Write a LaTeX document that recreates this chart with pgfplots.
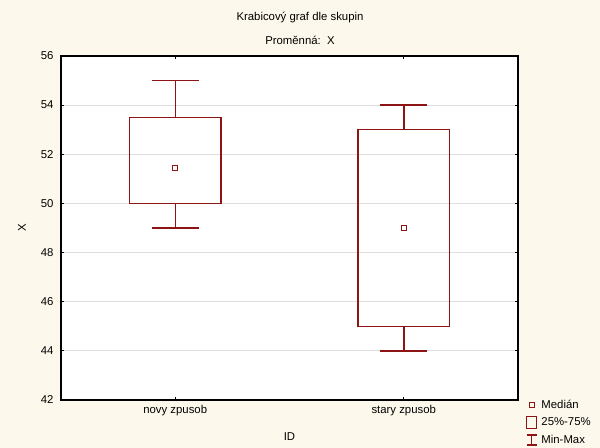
\documentclass[border=0pt]{standalone}
\usepackage{fontspec}
\setmainfont{Liberation Sans}
\usepackage{pgfplots}
\pgfplotsset{compat=1.18}
\definecolor{bg}{RGB}{253,248,236}
\definecolor{boxred}{RGB}{140,20,20}
\definecolor{gridgray}{RGB}{222,222,222}
\begin{document}
\begin{tikzpicture}[font=\fontsize{11.4}{13}\selectfont]
\fill[bg] (-61bp,-48bp) rectangle (539bp,400bp);
\useasboundingbox (-61bp,-48bp) rectangle (539bp,400bp);
\begin{axis}[
  at={(0,0)}, anchor=south west,
  scale only axis, width=457bp, height=344bp,
  xmin=0.5, xmax=2.5, ymin=42, ymax=56,
  xtick={1,2}, xticklabels={novy zpusob, stary zpusob},
  ytick={42,44,...,56},
  axis background/.style={fill=white},
  axis line style={line width=1.2bp},
  tick style={black, line width=0.8bp},
  major tick length=3bp,
  tick align=inside,
  ymajorgrids, grid style={gridgray, line width=0.8bp},
  /pgf/number format/assume math mode=true,
  ticklabel style={font=\fontsize{11.4}{13}\selectfont},
  xticklabel style={yshift=-2bp},
  yticklabel style={xshift=-4bp},
  xlabel={ID}, ylabel={X},
  label style={font=\fontsize{11.4}{13}\selectfont},
  xlabel style={at={(axis description cs:0.5,0)}, anchor=center, yshift=-37bp},
  ylabel style={at={(axis description cs:-0.0853,0.5)}, anchor=center},
  unbounded coords=jump,
  legend style={at={(1.0175,0)}, anchor=north west, draw=none, fill=none,
    inner sep=0pt, row sep=5bp, yshift=1bp,
    font=\fontsize{11.4}{13}\selectfont,
    nodes={inner ysep=1bp, inner xsep=2.5bp}},
  legend cell align=left,
]
% novy zpusob: min 49, Q1 50, median 51.45, Q3 53.5, max 55
\addplot[boxred, line width=1.5bp, forget plot, line cap=rect] coordinates {
  (0.8,50) (1.2,50) (1.2,53.5) (0.8,53.5) (0.8,50)
  (1,nan) (1,53.5) (1,55)
  (1,nan) (0.9,55) (1.1,55)
  (1,nan) (1,50) (1,49)
  (1,nan) (0.9,49) (1.1,49)
};
% stary zpusob: min 44, Q1 45, median 49, Q3 53, max 54
\addplot[boxred, line width=1.5bp, forget plot, line cap=rect] coordinates {
  (1.8,45) (2.2,45) (2.2,53) (1.8,53) (1.8,45)
  (2,nan) (2,53) (2,54)
  (2,nan) (1.9,54) (2.1,54)
  (2,nan) (2,45) (2,44)
  (2,nan) (1.9,44) (2.1,44)
};
\addplot[boxred, only marks, mark=square, mark size=2.6bp,
  mark options={line width=1.2bp}, forget plot]
  coordinates {(1,51.45) (2,49)};
\addlegendimage{legend image code/.code={
  \draw[boxred, line width=1.1bp] (2.5bp,-2.5bp) rectangle (7.5bp,2.5bp);
  \path (0bp,0bp) (12bp,0bp);}}
\addlegendentry{Medián}
\addlegendimage{legend image code/.code={
  \draw[boxred, line width=1.1bp] (0bp,-6bp) rectangle (10bp,6bp);
  \path (12bp,0bp);}}
\addlegendentry{25\%-75\%}
\addlegendimage{legend image code/.code={
  \draw[boxred, line width=1.1bp] (0bp,5bp) -- (10bp,5bp) (5bp,5bp) -- (5bp,-5bp) (0bp,-5bp) -- (10bp,-5bp);
  \path (12bp,0bp);}}
\addlegendentry{Min-Max}
\end{axis}
\node at (239bp,382bp) {Krabicový graf dle skupin};
\node at (239bp,360bp) {Proměnná:\ \ X};
\end{tikzpicture}
\end{document}
